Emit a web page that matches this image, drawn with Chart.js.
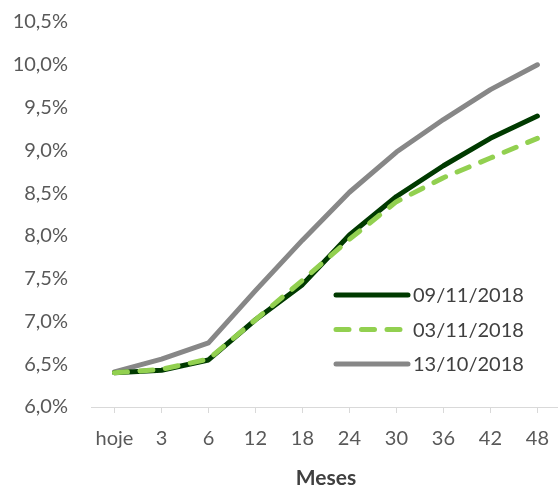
<!DOCTYPE html>
<html>
<head>
<meta charset="utf-8">
<script src="https://cdn.jsdelivr.net/npm/chart.js@4.4.0/dist/chart.umd.min.js"></script>
<style>
  html, body { margin: 0; padding: 0; background: #fff; overflow: hidden; }
  #wrap { width: 563px; height: 487px; position: relative; }
</style>
</head>
<body>
<div id="wrap"><canvas id="curveChart"></canvas></div>
<script>
// prazos (meses)
const labels = ["hoje", "3", "6", "12", "18", "24", "30", "36", "42", "48"];

// curvas de juros (%)
const curve0911 = [6.40, 6.43, 6.55, 7.02, 7.43, 8.01, 8.46, 8.82, 9.14, 9.40];
const curve0311 = [6.40, 6.44, 6.56, 7.02, 7.48, 7.96, 8.40, 8.68, 8.91, 9.14];
const curve1310 = [6.41, 6.56, 6.75, 7.36, 7.95, 8.51, 8.98, 9.36, 9.71, 10.00];

const seriesNames = ["09/11/2018", "03/11/2018", "13/10/2018"];
const yTicks = [6.0, 6.5, 7.0, 7.5, 8.0, 8.5, 9.0, 9.5, 10.0, 10.5];

const fmtPct = (v) => v.toFixed(1).replace(".", ",") + "%";

// legenda dentro da área do gráfico (canto inferior direito)
const innerLegend = {
  id: "innerLegend",
  afterDraw(chart) {
    const ctx = chart.ctx;
    const x0 = 336, x1 = 408, yStart = 295, step = 34.5;
    chart.data.datasets.forEach((ds, i) => {
      const y = yStart + i * step;
      ctx.save();
      ctx.strokeStyle = ds.borderColor;
      ctx.lineWidth = ds.borderWidth;
      ctx.lineCap = "round";
      ctx.setLineDash(ds.borderDash || []);
      ctx.beginPath();
      ctx.moveTo(x0, y);
      ctx.lineTo(x1, y);
      ctx.stroke();
      ctx.setLineDash([]);
      ctx.fillStyle = "#404040";
      ctx.font = "20px Lato";
      ctx.textBaseline = "middle";
      ctx.textAlign = "left";
      ctx.fillText(ds.label, x1 + 5, y + 1);
      ctx.restore();
    });
  },
};

const ctx = document.getElementById("curveChart").getContext("2d");

new Chart(ctx, {
  type: "line",
  data: {
    labels: labels,
    datasets: [
      {
        label: seriesNames[0],
        data: curve0911,
        borderColor: "#003a00",
        borderWidth: 5,
        order: 1,
      },
      {
        label: seriesNames[1],
        data: curve0311,
        borderColor: "#92d050",
        borderWidth: 5,
        borderDash: [13, 12.5],
        order: 0,
      },
      {
        label: seriesNames[2],
        data: curve1310,
        borderColor: "#878787",
        borderWidth: 5,
        order: 2,
      },
    ],
  },
  options: {
    responsive: true,
    maintainAspectRatio: false,
    animation: false,
    layout: { padding: { top: 22, left: 0, right: 0, bottom: 0 } },
    elements: {
      point: { radius: 0 },
      line: { tension: 0, borderCapStyle: "round", borderJoinStyle: "round", fill: false },
    },
    plugins: {
      legend: { display: false },
      tooltip: { enabled: false },
    },
    scales: {
      x: {
        offset: true,
        grid: {
          display: true,
          drawOnChartArea: false,
          drawTicks: true,
          tickLength: 6,
          color: "#d9d9d9",
        },
        border: { display: true, color: "#d9d9d9", width: 1 },
        ticks: {
          color: "#595959",
          font: { family: "Lato", size: 20 },
          padding: 14,
          maxRotation: 0,
          autoSkip: false,
        },
        title: {
          display: true,
          text: "Meses",
          color: "#404040",
          font: { family: "Lato", size: 21, weight: "bold" },
          padding: { top: 0, bottom: -4 },
        },
        afterFit(scale) {
          scale.height = 80;
        },
      },
      y: {
        min: yTicks[0],
        max: yTicks[yTicks.length - 1],
        grid: { display: false, drawTicks: false },
        border: { display: false },
        afterBuildTicks(scale) {
          scale.ticks = yTicks.map((v) => ({ value: v }));
        },
        ticks: {
          color: "#595959",
          font: { family: "Lato", size: 20 },
          padding: 23,
          callback: (v) => fmtPct(v),
        },
        afterFit(scale) {
          scale.width = 91;
          // a margem dos rótulos não deve empurrar a área do gráfico para baixo
          scale.paddingTop = 0;
          scale.paddingBottom = 0;
        },
      },
    },
  },
  plugins: [innerLegend],
});
</script>
</body>
</html>
